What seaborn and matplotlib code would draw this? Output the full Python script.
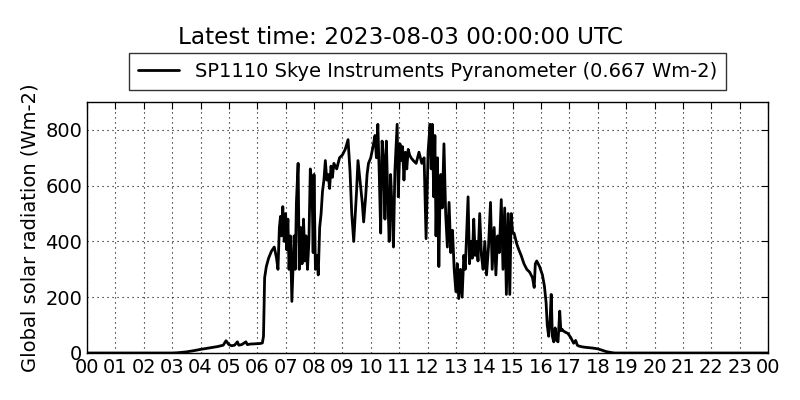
import pandas as pd
import matplotlib
matplotlib.use("Agg")
import matplotlib.pyplot as plt
import seaborn as sns

# Pyranometer trace for 2023-08-02, (hour of day, W m-2)
night_am = [(0.0, 0), (1.0, 0), (2.0, 0), (3.0, 0), (3.2, 1), (3.5, 4),
            (3.8, 9), (4.0, 13), (4.3, 18), (4.6, 23), (4.8, 28), (4.9, 44),
            (5.0, 30), (5.1, 26), (5.2, 28), (5.3, 40), (5.35, 28),
            (5.45, 30), (5.6, 40), (5.65, 30), (5.75, 32), (5.9, 33),
            (6.0, 34), (6.1, 34), (6.18, 36), (6.22, 60)]
morning = [(6.26, 270), (6.32, 310), (6.4, 340), (6.5, 365), (6.6, 380),
           (6.68, 340), (6.73, 300), (6.78, 450), (6.82, 490), (6.86, 420),
           (6.9, 525), (6.95, 400), (7.0, 500), (7.04, 370), (7.08, 480),
           (7.12, 300), (7.17, 420), (7.22, 185), (7.26, 300), (7.3, 420),
           (7.34, 300), (7.38, 540), (7.44, 680), (7.48, 300), (7.53, 450),
           (7.58, 320), (7.63, 480), (7.68, 330), (7.72, 420), (7.77, 300),
           (7.82, 400), (7.87, 660), (7.93, 600), (7.97, 360), (8.0, 640),
           (8.05, 300), (8.1, 350), (8.15, 280), (8.2, 450), (8.25, 500),
           (8.3, 580), (8.35, 620), (8.4, 690), (8.45, 620), (8.5, 640),
           (8.55, 590), (8.6, 670), (8.65, 630), (8.7, 680), (8.8, 660),
           (8.9, 700), (9.0, 710), (9.1, 730), (9.2, 765), (9.27, 650),
           (9.33, 500), (9.4, 400), (9.5, 580), (9.55, 690), (9.62, 620),
           (9.7, 540), (9.75, 470), (9.82, 560), (9.87, 640), (9.92, 680),
           (10.0, 700)]
midday = [(10.08, 740), (10.15, 780), (10.2, 700), (10.25, 820),
          (10.3, 640), (10.35, 430), (10.4, 760), (10.45, 700),
          (10.5, 480), (10.55, 760), (10.6, 560), (10.65, 400),
          (10.7, 640), (10.75, 520), (10.8, 380), (10.85, 650),
          (10.93, 820), (10.97, 560), (11.03, 750), (11.07, 690),
          (11.12, 740), (11.17, 620), (11.22, 720), (11.27, 660),
          (11.32, 730), (11.37, 710), (11.42, 700), (11.5, 690),
          (11.6, 680), (11.7, 720), (11.8, 680), (11.88, 700),
          (11.95, 410), (12.02, 720), (12.09, 820), (12.13, 660),
          (12.17, 820), (12.22, 560), (12.26, 780), (12.3, 420),
          (12.35, 700), (12.4, 310), (12.44, 560), (12.47, 640),
          (12.52, 520), (12.58, 750), (12.64, 500), (12.7, 380),
          (12.76, 540), (12.82, 360), (12.88, 440), (12.94, 300),
          (13.0, 220)]
afternoon = [(13.05, 320), (13.1, 195), (13.16, 300), (13.22, 200),
             (13.28, 350), (13.33, 300), (13.38, 430), (13.43, 560),
             (13.48, 320), (13.53, 400), (13.58, 340), (13.63, 480),
             (13.68, 350), (13.73, 400), (13.78, 330), (13.84, 500),
             (13.9, 350), (13.96, 300), (14.02, 400), (14.08, 280),
             (14.15, 380), (14.22, 540), (14.28, 300), (14.35, 450),
             (14.41, 280), (14.47, 420), (14.53, 360), (14.6, 550),
             (14.66, 300), (14.72, 520), (14.78, 210), (14.84, 500),
             (14.9, 210), (14.95, 500), (15.0, 430), (15.05, 430),
             (15.1, 410), (15.15, 390), (15.22, 370), (15.3, 350),
             (15.4, 320), (15.5, 300), (15.6, 290), (15.7, 270),
             (15.76, 235), (15.8, 320), (15.85, 330), (15.95, 310),
             (16.05, 280), (16.12, 240), (16.18, 180), (16.22, 100),
             (16.27, 60), (16.32, 120), (16.36, 210), (16.4, 60),
             (16.45, 40), (16.5, 90), (16.55, 45), (16.6, 40),
             (16.66, 150), (16.7, 80), (16.74, 85), (16.78, 80)]
dusk = [(16.85, 75), (16.95, 70), (17.05, 55), (17.15, 35), (17.22, 45),
        (17.28, 28), (17.33, 25), (17.38, 24), (17.45, 22), (17.6, 20),
        (17.8, 18), (18.0, 15), (18.15, 10), (18.3, 5), (18.45, 2),
        (18.6, 0), (18.8, 0), (19.0, 0), (20.0, 0), (21.0, 0), (22.0, 0),
        (23.0, 0), (24.0, 0)]
tick_hours = list(range(25))
tick_labels = [f"{h % 24:02d}" for h in tick_hours]

trace = night_am + morning + midday + afternoon + dusk
df = pd.DataFrame(trace, columns=["hour", "radiation"])

sns.set_style("white")
plt.rcParams["font.family"] = ["DejaVu Sans"]
plt.rcParams["text.color"] = "black"
plt.rcParams["axes.labelcolor"] = "black"
plt.rcParams["xtick.color"] = "black"
plt.rcParams["ytick.color"] = "black"

fig = plt.figure(figsize=(8, 4), dpi=100)
ax = fig.add_axes([0.10875, 0.1175, 0.85125, 0.6275])

sns.lineplot(
    data=df, x="hour", y="radiation", ax=ax, color="black", linewidth=2,
    label="SP1110 Skye Instruments Pyranometer (0.667 Wm-2)",
)

ax.set_xlim(0, 24)
ax.set_ylim(0, 900)
ax.set_xticks(tick_hours)
ax.set_xticklabels(tick_labels)
ax.set_yticks([0, 200, 400, 600, 800])
ax.tick_params(axis="both", direction="in", top=True, right=True,
               labelsize=14, length=5, color="black")
ax.grid(True, color="black", linestyle=(0, (1, 3.5)), linewidth=0.8)
for s in ax.spines.values():
    s.set_color("black")
    s.set_linewidth(1)
ax.set_xlabel("")
ax.set_ylabel("Global solar radiation (Wm-2)", fontsize=14)

leg = ax.legend(loc="lower center", bbox_to_anchor=(0.5, 1.048), fontsize=14,
                frameon=True, fancybox=False, handlelength=2.1,
                borderpad=0.45, borderaxespad=0)
leg.get_frame().set_edgecolor("black")
leg.get_frame().set_linewidth(1)

fig.suptitle("Latest time: 2023-08-03 00:00:00 UTC", fontsize=16.7, y=0.935)

fig.savefig("out.png", dpi=100)
